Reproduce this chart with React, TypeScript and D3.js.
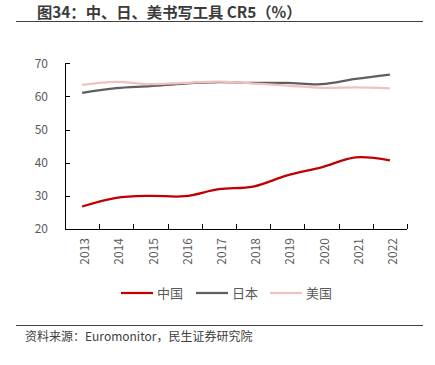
import React from "react";
import * as d3 from "d3";

const years = ["2013","2014","2015","2016","2017","2018","2019","2020","2021","2022"];
const china = [26.8, 29.4, 30.0, 29.9, 32.0, 32.8, 36.2, 38.6, 41.6, 40.7];
const japan = [61.1, 62.5, 63.1, 63.9, 64.3, 64.1, 64.1, 63.7, 65.3, 66.6];
const usa = [63.5, 64.4, 63.7, 64.1, 64.5, 63.9, 63.3, 62.6, 62.7, 62.4];
const yTicks = [20, 30, 40, 50, 60, 70];
const seriesNames = ["中国", "日本", "美国"];
const seriesColors = ["#C00000", "#5F5F5F", "#F2C0C0"];

const W = 435, H = 365;
const left = 65, right = 407, top = 63.3, bottom = 229;
const font = "'Noto Sans CJK SC', 'Noto Sans', sans-serif";

export default function App() {
  const x = d3.scaleBand().domain(years).range([left, right]);
  const y = d3.scaleLinear().domain([20, 70]).range([bottom, top]);
  const line = d3.line<number>()
    .x((_, i) => (x(years[i]) as number) + x.bandwidth() / 2)
    .y((d) => y(d))
    .curve(d3.curveCatmullRom.alpha(0.5));
  const data = [china, japan, usa];
  const legendX = [121, 196, 270];
  return (
    <svg width={W} height={H} style={{ position: "absolute", left: 0, top: 0 }}>
      <rect width={W} height={H} fill="#fff" />
      <text x={37} y={18} fontFamily={font} fontWeight="bold" fontSize={15.3} fill="#3a3a3a">
        图34：中、日、美书写工具 CR5（%）
      </text>
      <line x1={16} x2={423} y1={21.5} y2={21.5} stroke="#404040" strokeWidth={1.2} />
      {/* y axis */}
      <line x1={left + 0.5} x2={left + 0.5} y1={top} y2={bottom} stroke="#000" />
      {yTicks.map((t) => (
        <g key={t}>
          <line x1={left} x2={left + 5} y1={Math.round(y(t)) + 0.5} y2={Math.round(y(t)) + 0.5} stroke="#000" />
          <text x={48} y={y(t)} dy="0.35em" textAnchor="end" fontFamily={font} fontSize={12} fill="#595959">{t}</text>
        </g>
      ))}
      {/* x axis */}
      <line x1={left} x2={right} y1={bottom + 0.5} y2={bottom + 0.5} stroke="#000" />
      {years.map((yr) => (
        <line key={"t" + yr} x1={Math.round((x(yr) as number) + x.bandwidth()) + 0.5} x2={Math.round((x(yr) as number) + x.bandwidth()) + 0.5} y1={bottom} y2={bottom - 5} stroke="#000" />
      ))}
      {years.map((yr) => {
        const cx = (x(yr) as number) + x.bandwidth() / 2;
        return (
          <text key={yr} transform={`translate(${cx + 7},238) rotate(-90)`} textAnchor="end" fontFamily={font} fontSize={12} fill="#595959">{yr}</text>
        );
      })}
      {data.map((d, i) => (
        <path key={i} d={line(d) as string} fill="none" stroke={seriesColors[i]} strokeWidth={2.25} />
      ))}
      {/* legend */}
      {seriesNames.map((n, i) => (
        <g key={n}>
          <line x1={legendX[i]} x2={legendX[i] + 32} y1={293} y2={293} stroke={seriesColors[i]} strokeWidth={2.25} />
          <text x={legendX[i] + 36} y={293} dy="0.35em" fontFamily={font} fontSize={13} fill="#595959">{n}</text>
        </g>
      ))}
      <line x1={16} x2={423} y1={325.5} y2={325.5} stroke="#404040" strokeWidth={1.2} />
      <text x={25} y={341} fontFamily={font} fontSize={12} fill="#404040">资料来源：Euromonitor，民生证券研究院</text>
    </svg>
  );
}
